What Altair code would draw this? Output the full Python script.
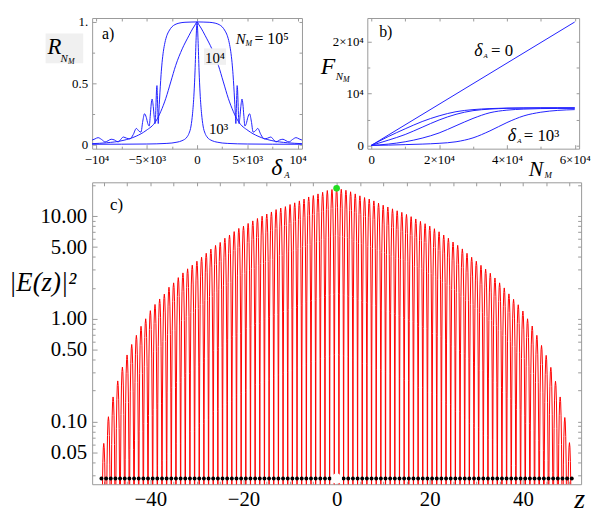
import altair as alt
import pandas as pd

FONT = "Liberation Serif"
FRAME = "#9a9a9a"
BLUE = "#2020ff"
RED = "#ff0000"

# ---------------- panel a) R_{N_M} vs delta_A (half curves, delta >= 0; curves are symmetric)
a_delta_1e5 = [0, 600, 1200, 1800, 2200, 2500, 2800, 3000, 3200, 3350, 3480, 3580, 3660, 3730, 3790, 3830, 3860,
               3900, 3950, 3990, 4030, 4080, 4130, 4180, 4260, 4360, 4470, 4560, 4650, 4760, 4900, 5050, 5230,
               5400, 5580, 5800, 6040, 6350, 6680, 7000, 7340, 7600, 7850, 8200, 8550, 8850, 9150, 9500, 9850,
               10150, 10440]
a_R_1e5 = [1.0, 0.999, 0.997, 0.99, 0.978, 0.96, 0.925, 0.89, 0.83, 0.76, 0.67, 0.57, 0.47, 0.37, 0.28, 0.21, 0.17,
           0.26, 0.40, 0.48, 0.45, 0.34, 0.22, 0.17, 0.22, 0.31, 0.37, 0.33, 0.24, 0.15, 0.17, 0.22, 0.25,
           0.19, 0.10, 0.11, 0.13, 0.08, 0.045, 0.05, 0.06, 0.04, 0.02, 0.035, 0.042, 0.03, 0.02, 0.04, 0.055,
           0.045, 0.035]
a_delta_1e4 = [0, 200, 400, 816, 1475, 2124, 2616, 3108, 3600, 4090, 5074, 6057, 7370, 9010, 10440]
a_R_1e4 = [1.0, 0.975, 0.95, 0.887, 0.78, 0.645, 0.51, 0.376, 0.27, 0.19, 0.113, 0.067, 0.032, 0.013, 0.006]
a_delta_1e3 = [0, 100, 200, 300, 450, 600, 800, 1000, 1500, 2000, 3000, 5000, 7500, 10440]
a_R_1e3 = [1.0, 0.85, 0.6, 0.42, 0.25, 0.15, 0.09, 0.06, 0.03, 0.018, 0.008, 0.003, 0.0015, 0.001]

a_xticks = [-10000, -5000, 0, 5000, 10000]
a_xlabels = ["\u221210\u2074", "\u22125\u00d710\u00b3", "0", "5\u00d710\u00b3", "10\u2074"]
a_xminor = [-7500, -2500, 2500, 7500]
a_yticks = [0, 0.5, 1]
a_ylabels = ["0", "0.5", "1."]
a_yminor = [0.25, 0.75]

# ---------------- panel b) F_{N_M} vs N_M
b_N_lin = [0, 60000]
b_F_lin = [0, 23800]
b_N = [0, 5000, 10000, 15000, 20000, 25000, 30000, 35000, 40000, 45000, 50000, 55000, 60000]
b_F_1 = [0, 1700, 3200, 4600, 5700, 6500, 6900, 7100, 7200, 7230, 7250, 7250, 7250]
b_F_2 = [0, 1000, 2100, 3500, 4900, 6000, 6700, 7000, 7150, 7200, 7220, 7230, 7230]
b_F_3 = [0, 250, 700, 1400, 2400, 3800, 5200, 6300, 6800, 7000, 7100, 7130, 7150]
b_F_4 = [0, 50, 150, 250, 400, 700, 1450, 2800, 4400, 5700, 6400, 6750, 6900]

b_xticks = [0, 20000, 40000, 60000]
b_xlabels = ["0", "2\u00d710\u2074", "4\u00d710\u2074", "6\u00d710\u2074"]
b_xminor = [10000, 30000, 50000]
b_yticks = [0, 10000, 20000]
b_ylabels = ["0", "10\u2074", "2\u00d710\u2074"]
b_yminor = [5000, 15000]

# ---------------- panel c) |E(z)|^2 vs z (peak heights at integer z)
c_peaks_left = [0.061, 0.111, 0.173, 0.248, 0.338, 0.444, 0.562, 0.69, 0.845, 1.0,
                1.2, 1.38, 1.56, 1.74, 2.03, 2.24, 2.52, 2.80, 3.07, 3.33,
                3.64, 3.98, 4.35, 4.78, 5.19, 5.55, 6.1, 6.56, 7.08, 7.6,
                8.0, 8.5, 9.0, 9.5, 10.0, 10.5, 11.0, 11.6, 12.0, 12.4,
                13.0, 13.5, 14.1, 14.7, 15.4, 15.9, 16.5, 17.1, 17.8, 18.2, 18.7]   # z = -50 .. 0
c_peaks_right = [18.3, 17.9, 17.3, 16.5, 15.8, 15.2, 14.7, 14.1, 13.4, 12.8,
                 12.3, 11.8, 11.3, 10.9, 10.4, 9.9, 9.4, 8.9, 8.45, 8.0,
                 7.55, 7.05, 6.55, 6.1, 5.6, 5.2, 4.8, 4.35, 3.98, 3.64,
                 3.32, 3.05, 2.78, 2.5, 2.24, 2.0, 1.75, 1.55, 1.37, 1.19,
                 1.0, 0.85, 0.69, 0.55, 0.44, 0.336, 0.246, 0.173, 0.109, 0.062]   # z = 1 .. 50
c_profile_offset = [-0.5, -0.45, -0.4, -0.3, -0.2, -0.1, 0.0, 0.1, 0.2, 0.3, 0.4, 0.45]
c_profile_factor = [0.0005, 0.024, 0.095, 0.345, 0.655, 0.905, 1.0, 0.905, 0.655, 0.345, 0.095, 0.024]
c_dot_level = 0.0277
c_center_peak = 18.7

c_xticks = [-40, -20, 0, 20, 40]
c_xlabels = ["\u221240", "\u221220", "0", "20", "40"]
c_xminor = [-50, -45, -35, -30, -25, -15, -10, -5, 5, 10, 15, 25, 30, 35, 45, 50]
c_yticks = [0.05, 0.1, 0.5, 1, 5, 10]
c_ylabels = ["0.05", "0.10", "0.50", "1.00", "5.00", "10.00"]
c_yminor = [0.03, 0.04, 0.06, 0.07, 0.08, 0.09, 0.2, 0.3, 0.4, 0.6, 0.7, 0.8, 0.9,
            2, 3, 4, 6, 7, 8, 9, 20]


def sym(d, r):
    xs = [-v for v in reversed(d[1:])] + list(d)
    ys = list(reversed(r[1:])) + list(r)
    return pd.DataFrame({"d": xs, "R": ys})


def lbl_expr(values, labels):
    s = ""
    for v, l in zip(values, labels):
        tol = abs(v) * 1e-6 + 1e-12
        s += f"abs(datum.value - ({v})) <= {tol} ? '{l}' : "
    return s + "''"


def axis(orient, values, tick, labels=False, expr=None, size=12, pad=4):
    kw = dict(orient=orient, values=values, tickSize=tick, offset=-tick, domain=False,
              grid=False, ticks=True, labels=labels, title=None, tickColor=FRAME, tickWidth=1,
              labelFont=FONT, labelFontSize=size, labelColor="black", labelPadding=pad,
              labelFlush=False, labelOverlap=False, labelBound=False)
    if expr is not None:
        kw["labelExpr"] = expr
    return alt.Axis(**kw)


def txt(label, x, y, size, italic=False):
    return alt.Chart(pd.DataFrame({"t": [label]})).mark_text(
        font=FONT, fontSize=size, fontStyle="italic" if italic else "normal",
        align="left", baseline="alphabetic", color="black"
    ).encode(text="t:N", x=alt.value(x), y=alt.value(y))


def box(x1, x2, y1, y2):
    return alt.Chart(pd.DataFrame({"b": [0]})).mark_rect(color="#f0f0f0").encode(
        x=alt.value(x1), x2=alt.value(x2), y=alt.value(y1), y2=alt.value(y2))


# ---------------- panel a
xa = alt.Scale(domain=[-10440, 10440], nice=False, zero=False)
ya = alt.Scale(domain=[-0.035, 1.032], nice=False, zero=False)
a_all_x = sorted(a_xticks + a_xminor)
a_all_y = sorted(a_yticks + a_yminor)


def a_line(df, xax, yax):
    return alt.Chart(df).mark_line(color=BLUE, strokeWidth=1, interpolate="monotone").encode(
        x=alt.X("d:Q", scale=xa, axis=xax), y=alt.Y("R:Q", scale=ya, axis=yax))


a1 = a_line(sym(a_delta_1e5, a_R_1e5),
            axis("bottom", a_xticks, 4, True, lbl_expr(a_xticks, a_xlabels), 13, 5),
            axis("left", a_yticks, 4, True, lbl_expr(a_yticks, a_ylabels), 13, 4.5))
a2 = a_line(sym(a_delta_1e4, a_R_1e4), axis("bottom", a_xminor, 2.5), axis("left", a_yminor, 2.5))
a3 = a_line(sym(a_delta_1e3, a_R_1e3), axis("top", a_all_x, 3), axis("right", a_all_y, 3))

a_texts = [
    box(-47, -9, 15.7, 45.7),
    txt("R", -45, 36, 23, True), txt("N", -32, 44, 11, True), txt("M", -24.5, 46, 8, True),
    txt("a)", 10, 21, 16),
    txt("N", 145, 26, 15, True), txt("M", 155, 28.5, 8, True), txt("= 10\u2075", 164, 26, 16),
    box(113, 135.3, 30.7, 47.3), txt("10\u2074", 114, 45, 15),
    txt("10\u00b3", 118, 117.3, 15),
    txt("\u03b4", 181, 159, 24, True), txt("A", 194, 162, 9, True),
]
panel_a = alt.layer(a1, a2, a3, *a_texts).resolve_axis(x="independent", y="independent").properties(
    width=212, height=132)

# ---------------- panel b
xb = alt.Scale(domain=[-1170, 61300], nice=False, zero=False)
yb = alt.Scale(domain=[-630, 24570], nice=False, zero=False)
b_all_x = sorted(b_xticks + b_xminor)
b_all_y = sorted(b_yticks + b_yminor)


def b_line(df, xax=None, yax=None):
    return alt.Chart(df).mark_line(color=BLUE, strokeWidth=1, interpolate="monotone").encode(
        x=alt.X("N:Q", scale=xb, axis=xax), y=alt.Y("F:Q", scale=yb, axis=yax))


b0 = b_line(pd.DataFrame({"N": b_N_lin, "F": b_F_lin}),
            axis("bottom", b_xticks, 4, True, lbl_expr(b_xticks, b_xlabels), 13, 5),
            axis("left", b_yticks, 4, True, lbl_expr(b_yticks, b_ylabels), 13, 4))
b1 = b_line(pd.DataFrame({"N": b_N, "F": b_F_1}), axis("bottom", b_xminor, 2.5), axis("left", b_yminor, 2.5))
b2 = b_line(pd.DataFrame({"N": b_N, "F": b_F_2}), axis("top", b_all_x, 3), axis("right", b_all_y, 3))
b3 = b_line(pd.DataFrame({"N": b_N, "F": b_F_3}))
b4 = b_line(pd.DataFrame({"N": b_N, "F": b_F_4}))

b_texts = [
    txt("b)", 12, 19, 16),
    txt("F", -47, 57, 24, True), txt("N", -32, 62.5, 11, True), txt("M", -24.5, 64.5, 8, True),
    txt("\u03b4", 108, 38, 18, True), txt("A", 117.5, 40, 7, True), txt("= 0", 125, 38, 17),
    txt("\u03b4", 142, 124, 18, True), txt("A", 151.5, 126, 7, True), txt("= 10\u00b3", 158, 124, 17),
    txt("N", 163, 160, 22, True), txt("M", 179, 162, 9, True),
]
panel_b = alt.layer(b0, b1, b2, b3, b4, *b_texts).resolve_axis(x="independent", y="independent").properties(
    width=214, height=132)

# ---------------- panel c
peaks = c_peaks_left + c_peaks_right
zs, vals = [], []
for i, p in enumerate(peaks):
    n = i - 50
    for off, f in zip(c_profile_offset, c_profile_factor):
        zs.append(n + off)
        vals.append(p * f)
zs.append(50.5)
vals.append(peaks[-1] * c_profile_factor[0])
c_df = pd.DataFrame({"z": zs, "I": vals})
dots_z = [k + 0.5 for k in range(-51, 51)]
dots_df = pd.DataFrame({"z": dots_z, "I": [c_dot_level] * len(dots_z)})

xc = alt.Scale(domain=[-52.5, 52.5], nice=False, zero=False)
yc = alt.Scale(type="log", domain=[0.0244, 21.4], nice=False)
c_all_x = sorted(c_xticks + c_xminor)
c_all_y = sorted(c_yticks + c_yminor)

c1 = alt.Chart(c_df).mark_line(color=RED, strokeWidth=1, clip=True).encode(
    x=alt.X("z:Q", scale=xc, axis=axis("bottom", c_xticks, 5, True, lbl_expr(c_xticks, c_xlabels), 21, 5)),
    y=alt.Y("I:Q", scale=yc, axis=axis("left", c_yticks, 5, True, lbl_expr(c_yticks, c_ylabels), 21, 5.5)))
c2 = alt.Chart(dots_df).mark_circle(color="black", size=16, opacity=1).encode(
    x=alt.X("z:Q", scale=xc, axis=axis("bottom", c_xminor, 3)),
    y=alt.Y("I:Q", scale=yc, axis=axis("left", c_yminor, 3)))
c3 = alt.Chart(pd.DataFrame({"z": [0], "I": [c_dot_level]})).mark_circle(color="white", size=110, opacity=1).encode(
    x=alt.X("z:Q", scale=xc, axis=axis("top", c_all_x, 3.5)),
    y=alt.Y("I:Q", scale=yc, axis=axis("right", c_all_y, 3.5)))
c4 = alt.Chart(pd.DataFrame({"z": [0], "I": [c_center_peak]})).mark_circle(color="#22dd22", size=45, opacity=1).encode(
    x=alt.X("z:Q", scale=xc, axis=None), y=alt.Y("I:Q", scale=yc, axis=None))

c_texts = [
    txt("c)", 18, 28, 17),
    txt("|E(z)|\u00b2", -84, 110, 27, True),
    txt("z", 487, 329, 28, True),
]
panel_c = alt.layer(c1, c2, c3, c4, *c_texts).resolve_axis(x="independent", y="independent").properties(
    width=494, height=305)

top = alt.hconcat(panel_a, panel_b, spacing=66, bounds="flush")
chart = alt.vconcat(top, panel_c, spacing=0).properties(
    padding={"left": 0, "top": 4.5, "right": 0, "bottom": -2}
).configure(font=FONT).configure_axis(labelFont=FONT).configure_text(font=FONT).configure_view(
    stroke=FRAME, strokeWidth=1)

chart.save("out.html", embed_options={"renderer": "svg", "actions": False})
